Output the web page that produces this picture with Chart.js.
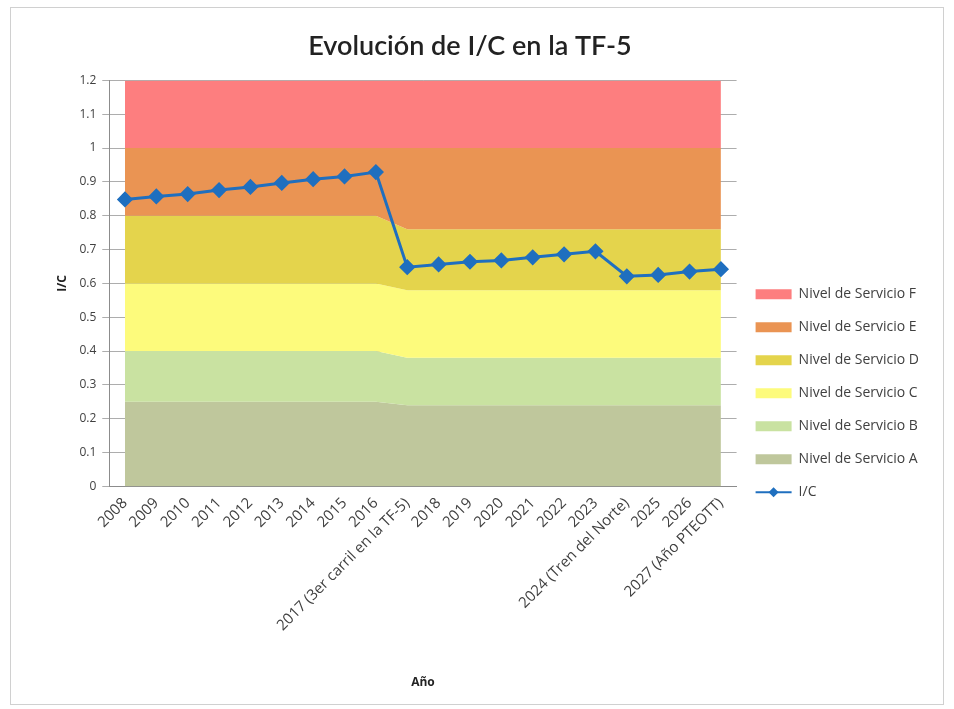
<!DOCTYPE html>
<html>
<head>
<meta charset="utf-8">
<script src="https://cdn.jsdelivr.net/npm/chart.js@4"></script>
<style>
  body { margin: 0; background: #fff; }
  #box { position: absolute; left: 10px; top: 7px; width: 932px; height: 696px; border: 1px solid #d0d0d0; }
</style>
</head>
<body>
<div id="box"><canvas id="chart" width="932" height="696"></canvas></div>
<script>
// categories
const years = ['2008', '2009', '2010', '2011', '2012', '2013', '2014', '2015', '2016',
  '2017 (3er carril en la TF-5)', '2018', '2019', '2020', '2021', '2022', '2023',
  '2024 (Tren del Norte)', '2025', '2026', '2027 (Año PTEOTT)'];

// upper limit of each level of service band
const limitF = [1.2, 1.2, 1.2, 1.2, 1.2, 1.2, 1.2, 1.2, 1.2, 1.2, 1.2, 1.2, 1.2, 1.2, 1.2, 1.2, 1.2, 1.2, 1.2, 1.2];
const limitE = [1, 1, 1, 1, 1, 1, 1, 1, 1, 1, 1, 1, 1, 1, 1, 1, 1, 1, 1, 1];
const limitD = [0.8, 0.8, 0.8, 0.8, 0.8, 0.8, 0.8, 0.8, 0.8, 0.76, 0.76, 0.76, 0.76, 0.76, 0.76, 0.76, 0.76, 0.76, 0.76, 0.76];
const limitC = [0.6, 0.6, 0.6, 0.6, 0.6, 0.6, 0.6, 0.6, 0.6, 0.58, 0.58, 0.58, 0.58, 0.58, 0.58, 0.58, 0.58, 0.58, 0.58, 0.58];
const limitB = [0.4, 0.4, 0.4, 0.4, 0.4, 0.4, 0.4, 0.4, 0.4, 0.38, 0.38, 0.38, 0.38, 0.38, 0.38, 0.38, 0.38, 0.38, 0.38, 0.38];
const limitA = [0.25, 0.25, 0.25, 0.25, 0.25, 0.25, 0.25, 0.25, 0.25, 0.24, 0.24, 0.24, 0.24, 0.24, 0.24, 0.24, 0.24, 0.24, 0.24, 0.24];

// I/C ratio
const ic = [0.848, 0.857, 0.864, 0.876, 0.885, 0.897, 0.908, 0.916, 0.929, 0.648,
  0.656, 0.664, 0.668, 0.677, 0.686, 0.695, 0.621, 0.625, 0.635, 0.642];

const titleFont = 'Lato, "Liberation Sans", sans-serif';
const font = '"Open Sans", "Liberation Sans", sans-serif';

function band(label, data, color, fill) {
  return {
    label: label, data: data, fill: fill,
    backgroundColor: color, borderColor: color, borderWidth: 0,
    pointRadius: 0, pointHoverRadius: 0, tension: 0,
    pointStyle: 'rect'
  };
}

// little diamond on the I/C legend entry
const legendMarker = {
  id: 'legendMarker',
  afterDraw(chart) {
    const lg = chart.legend;
    const i = lg.legendItems.findIndex(it => it.text === 'I/C');
    const hb = lg.legendHitBoxes[i];
    if (!hb) return;
    const ctx = chart.ctx;
    const x = hb.left + 18, y = hb.top + hb.height / 2;
    ctx.save();
    ctx.fillStyle = '#1f6fbf';
    ctx.beginPath();
    ctx.moveTo(x, y - 5); ctx.lineTo(x + 5, y); ctx.lineTo(x, y + 5); ctx.lineTo(x - 5, y);
    ctx.closePath();
    ctx.fill();
    ctx.restore();
  }
};

new Chart(document.getElementById('chart').getContext('2d'), {
  type: 'line',
  data: {
    labels: years,
    datasets: [
      band('Nivel de Servicio F', limitF, '#fd7e7f', '+1'),
      band('Nivel de Servicio E', limitE, '#ea9453', '+1'),
      band('Nivel de Servicio D', limitD, '#e4d44c', '+1'),
      band('Nivel de Servicio C', limitC, '#fdfb7c', '+1'),
      band('Nivel de Servicio B', limitB, '#c9e2a1', '+1'),
      band('Nivel de Servicio A', limitA, '#bfc79c', 'origin'),
      {
        label: 'I/C', data: ic, fill: false, order: -1,
        borderColor: '#1f6fbf', backgroundColor: '#1f6fbf', borderWidth: 3,
        pointStyle: 'rectRot', pointRadius: 6, pointBackgroundColor: '#1f6fbf',
        pointBorderColor: '#1f6fbf', tension: 0
      }
    ]
  },
  options: {
    responsive: false,
    animation: false,
    layout: { padding: { top: 8, right: 14, left: 0, bottom: 4 } },
    plugins: {
      title: {
        display: true, text: 'Evolución de I/C en la TF-5',
        color: '#222', font: { family: titleFont, size: 27, weight: '600' },
        padding: { top: 14, bottom: 18 }
      },
      legend: {
        position: 'right',
        title: { display: true, text: ' ', font: { size: 12 }, padding: 28 },
        labels: {
          color: '#404040', font: { family: font, size: 14 },
          usePointStyle: true, pointStyleWidth: 36, boxHeight: 10, padding: 19,
          sort: (a, b) => a.datasetIndex - b.datasetIndex,
          generateLabels(chart) {
            const items = Chart.defaults.plugins.legend.labels.generateLabels(chart);
            items.forEach(it => {
              if (it.text === 'I/C') { it.pointStyle = 'line'; it.lineWidth = 2; }
              else { it.lineWidth = 0; }
            });
            return items;
          }
        }
      },
      tooltip: { enabled: false }
    },
    scales: {
      x: {
        offset: true,
        grid: { display: false, drawTicks: false },
        border: { color: '#8c8c8c' },
        ticks: { color: '#404040', font: { family: font, size: 15 }, minRotation: 45, maxRotation: 45, padding: 8 },
        title: { display: true, text: 'Año', color: '#222', font: { family: font, size: 12, weight: 'bold' }, padding: { top: 33, bottom: 10 } }
      },
      y: {
        min: 0, max: 1.2, z: 1,
        grid: { color: 'rgba(0,0,0,0.32)', tickLength: 7 },
        border: { color: '#8c8c8c' },
        ticks: {
          stepSize: 0.1, color: '#404040', font: { family: font, size: 12 }, padding: 6,
          callback: v => String(Math.round(v * 10) / 10)
        },
        title: { display: true, text: 'I/C', color: '#222', font: { family: font, size: 12, weight: 'bold' }, padding: { top: 44, bottom: 4 } }
      }
    }
  },
  plugins: [legendMarker]
});
</script>
</body>
</html>
